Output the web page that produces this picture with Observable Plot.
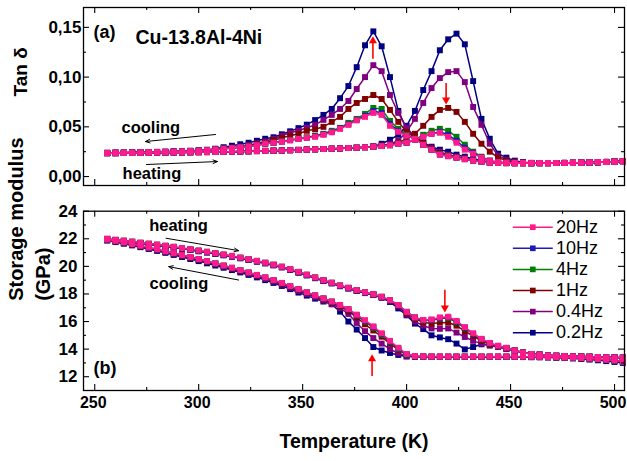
<!DOCTYPE html>
<html>
<head>
<meta charset="utf-8">
<script src="https://cdn.jsdelivr.net/npm/d3@7"></script>
<script src="https://cdn.jsdelivr.net/npm/@observablehq/plot@0.6"></script>
<style>
  html, body { margin: 0; padding: 0; background: #fff; }
  #chart { position: relative; width: 627px; height: 461px; font-family: "Liberation Sans", Arial, sans-serif; }
  #chart svg { position: absolute; left: 0; overflow: visible; }
</style>
</head>
<body>
<div id="chart"></div>
<script>
// ---------- data ----------
const temps = [256,260,264,268,272,276,280,284,288,292,
  296,300,304,308,312,316,320,324,328,332,
  336,340,344,348,352,356,360,364,368,372,
  376,380,384,388,392,396,400,404,408,412,
  416,420,424,428,432,436,440,444,448,452,
  456,460,464,468,472,476,480,484,488,492,
  496,500,504];

const freqLabels = ["20Hz", "10Hz", "4Hz", "1Hz", "0.4Hz", "0.2Hz"];
const freqColors = ["#ff1a8c", "#1c1cb4", "#008000", "#800000", "#800080", "#000080"];

// Tan delta, heating
const tanHeat20 = [.0235,.0235,.0237,.0238,.0239,.024,.024,.0241,.0242,.0243,
  .0244,.0245,.0246,.0247,.0248,.025,.0252,.0254,.0256,.0258,
  .026,.0262,.0265,.0268,.0271,.0274,.0277,.028,.0283,.0287,
  .029,.0295,.03,.0307,.0315,.033,.034,.037,.04,.043,
  .044,.04,.034,.027,.023,.019,.016,.0145,.014,.0138,
  .0136,.0135,.0135,.0135,.0136,.0137,.0138,.014,.0142,.0144,
  .0147,.015,.0155];
const tanHeat10 = [.0235,.0235,.0237,.0238,.0239,.024,.024,.0241,.0242,.0243,
  .0244,.0245,.0246,.0247,.0248,.025,.0252,.0254,.0256,.0258,
  .026,.0262,.0265,.0268,.0271,.0274,.0277,.028,.0283,.0287,
  .029,.0295,.03,.0307,.0315,.033,.034,.037,.04,.043,
  .045,.042,.036,.029,.024,.019,.016,.0145,.014,.0138,
  .0136,.0135,.0135,.0135,.0136,.0137,.0138,.014,.0142,.0144,
  .0147,.015,.0155];
const tanHeat4 = [.0235,.0235,.0237,.0238,.0239,.024,.024,.0241,.0242,.0243,
  .0244,.0245,.0246,.0247,.0248,.025,.0252,.0254,.0256,.0258,
  .026,.0262,.0265,.0268,.0271,.0274,.0277,.028,.0283,.0287,
  .029,.0295,.03,.0307,.0315,.033,.034,.037,.042,.046,
  .048,.046,.04,.032,.025,.02,.016,.0145,.014,.0138,
  .0136,.0135,.0135,.0135,.0136,.0137,.0138,.014,.0142,.0144,
  .0147,.015,.0155];
const tanHeat1 = [.0235,.0235,.0237,.0238,.0239,.024,.024,.0241,.0242,.0243,
  .0244,.0245,.0246,.0247,.0248,.025,.0252,.0254,.0256,.0258,
  .026,.0262,.0265,.0268,.0271,.0274,.0277,.028,.0283,.0287,
  .029,.0295,.03,.031,.032,.034,.038,.043,.051,.06,
  .067,.069,.065,.055,.043,.033,.025,.019,.016,.0145,
  .0137,.0135,.0135,.0135,.0136,.0137,.0138,.014,.0142,.0144,
  .0147,.015,.0155];
const tanHeat04 = [.0235,.0235,.0237,.0238,.0239,.024,.024,.0241,.0242,.0243,
  .0244,.0245,.0246,.0247,.0248,.025,.0252,.0254,.0256,.0258,
  .026,.0262,.0265,.0268,.0271,.0274,.0277,.028,.0283,.0287,
  .029,.0295,.0305,.031,.033,.036,.045,.058,.074,.089,
  .099,.105,.106,.095,.07,.052,.033,.021,.017,.015,
  .014,.0135,.0135,.0135,.0136,.0137,.0138,.014,.0142,.0144,
  .0147,.015,.0155];
const tanHeat02 = [.0235,.0235,.0237,.0238,.0239,.024,.024,.0241,.0242,.0243,
  .0244,.0245,.0246,.0247,.0248,.025,.0252,.0254,.0256,.0258,
  .026,.0262,.0265,.0268,.0271,.0274,.0277,.028,.0283,.0287,
  .029,.0295,.03,.033,.037,.042,.051,.066,.087,.106,
  .127,.138,.1437,.133,.096,.058,.038,.023,.019,.016,
  .0145,.0138,.0135,.0135,.0136,.0137,.0138,.014,.0142,.0144,
  .0147,.015,.0155];

// Tan delta, cooling
const tanCool20 = [.0238,.024,.024,.0242,.0244,.0245,.0246,.0248,.025,.0253,
  .0256,.026,.0266,.0273,.028,.0287,.0295,.0303,.0315,.033,
  .034,.035,.0365,.0378,.039,.04,.042,.0445,.048,.052,
  .0565,.06,.064,.062,.051,.045,.041,.038,.032,.027,
  .022,.0205,.019,.0175,.016,.015,.0138,.0136,.0135,.0134,
  .0134,.0134,.0135,.0135,.0136,.0137,.0138,.014,.0142,.0144,
  .0147,.015,.0155];
const tanCool10 = [.0238,.024,.024,.0242,.0244,.0245,.0246,.0248,.025,.0253,
  .0256,.026,.0266,.0273,.028,.0287,.0295,.0303,.0315,.033,
  .034,.035,.0365,.0378,.039,.0405,.0425,.045,.0485,.0525,
  .057,.061,.066,.064,.053,.046,.041,.038,.032,.027,
  .022,.0205,.019,.0175,.016,.015,.0138,.0136,.0135,.0134,
  .0134,.0134,.0135,.0135,.0136,.0137,.0138,.014,.0142,.0144,
  .0147,.015,.0155];
const tanCool4 = [.0238,.024,.024,.0242,.0244,.0245,.0246,.0248,.025,.0253,
  .0256,.026,.0266,.0273,.028,.0287,.0295,.0303,.0315,.033,
  .034,.0355,.037,.038,.0395,.041,.043,.046,.049,.054,
  .058,.063,.069,.068,.056,.048,.042,.038,.032,.027,
  .0225,.021,.019,.0175,.016,.015,.0138,.0136,.0135,.0134,
  .0134,.0134,.0135,.0135,.0136,.0137,.0138,.014,.0142,.0144,
  .0147,.015,.0155];
const tanCool1 = [.0238,.024,.024,.0242,.0244,.0245,.0246,.0248,.025,.0253,
  .0256,.026,.0266,.0273,.028,.0288,.0298,.031,.0325,.034,
  .0365,.039,.041,.043,.046,.0475,.05,.055,.06,.068,
  .074,.078,.082,.078,.067,.055,.045,.04,.034,.028,
  .0235,.021,.0195,.018,.0165,.0152,.014,.0137,.0135,.0134,
  .0134,.0134,.0135,.0135,.0136,.0137,.0138,.014,.0142,.0144,
  .0147,.015,.0155];
const tanCool04 = [.0238,.024,.024,.0242,.0244,.0245,.0246,.0248,.025,.0253,
  .0256,.026,.0266,.0274,.0282,.029,.03,.0315,.0335,.0355,
  .038,.041,.044,.046,.049,.052,.057,.062,.068,.076,
  .088,.1,.112,.106,.082,.064,.049,.04,.034,.029,
  .025,.022,.02,.0185,.017,.0155,.0142,.0138,.0135,.0134,
  .0134,.0134,.0135,.0135,.0136,.0137,.0138,.014,.0142,.0144,
  .0147,.015,.0155];
const tanCool02 = [.0238,.024,.0241,.0243,.0245,.0247,.0249,.0251,.0254,.0257,
  .026,.0265,.027,.028,.0295,.031,.0325,.034,.036,.038,
  .0395,.0425,.0455,.0487,.0522,.0568,.062,.068,.0788,.091,
  .11,.132,.146,.131,.1,.066,.048,.04,.034,.03,
  .027,.025,.022,.02,.018,.016,.015,.014,.0136,.0135,
  .0134,.0134,.0135,.0135,.0136,.0137,.0138,.014,.0142,.0144,
  .0147,.015,.0155];

// Storage modulus (GPa), heating
const modHeat20 = [22.0,21.93,21.87,21.8,21.72,21.65,21.58,21.5,21.42,21.33,
  21.24,21.15,21.06,20.96,20.86,20.76,20.64,20.52,20.4,20.27,
  20.13,19.98,19.8,19.6,19.4,19.2,19.0,18.82,18.62,18.45,
  18.28,18.12,17.98,17.8,17.55,17.2,16.7,16.3,16.12,16.15,
  16.3,16.35,16.05,15.6,15.15,14.75,14.45,14.25,14.1,13.9,
  13.75,13.65,13.6,13.55,13.52,13.5,13.48,13.47,13.45,13.43,
  13.41,13.4,13.38];
const modHeat10 = [21.97,21.9,21.84,21.77,21.69,21.62,21.55,21.47,21.39,21.3,
  21.21,21.12,21.03,20.93,20.83,20.73,20.61,20.49,20.37,20.24,
  20.1,19.95,19.77,19.57,19.37,19.17,18.97,18.79,18.59,18.42,
  18.25,18.09,17.95,17.77,17.52,17.17,16.7,16.3,16.1,16.12,
  16.25,16.3,16.0,15.55,15.1,14.72,14.43,14.23,14.08,13.9,
  13.75,13.65,13.6,13.55,13.52,13.5,13.48,13.47,13.45,13.43,
  13.41,13.4,13.38];
const modHeat4 = [22.0,21.93,21.87,21.8,21.72,21.65,21.58,21.5,21.42,21.33,
  21.24,21.15,21.06,20.96,20.86,20.76,20.64,20.52,20.4,20.27,
  20.13,19.98,19.8,19.6,19.4,19.2,19.0,18.82,18.62,18.45,
  18.28,18.12,17.98,17.8,17.55,17.2,16.7,16.28,16.08,16.1,
  16.22,16.25,15.95,15.52,15.1,14.7,14.42,14.22,14.08,13.9,
  13.75,13.65,13.6,13.55,13.52,13.5,13.48,13.47,13.45,13.43,
  13.41,13.4,13.38];
const modHeat1 = [21.97,21.9,21.84,21.77,21.69,21.62,21.55,21.47,21.39,21.3,
  21.21,21.12,21.03,20.93,20.83,20.73,20.61,20.49,20.37,20.24,
  20.1,19.95,19.77,19.57,19.37,19.17,18.97,18.79,18.59,18.42,
  18.25,18.09,17.95,17.77,17.52,17.17,16.6,16.2,15.95,15.85,
  15.92,15.93,15.7,15.3,14.95,14.6,14.35,14.2,14.05,13.9,
  13.75,13.65,13.6,13.55,13.52,13.5,13.48,13.47,13.45,13.43,
  13.41,13.4,13.38];
const modHeat04 = [21.97,21.9,21.84,21.77,21.69,21.62,21.55,21.47,21.39,21.3,
  21.21,21.12,21.03,20.93,20.83,20.73,20.61,20.49,20.37,20.24,
  20.1,19.95,19.77,19.57,19.37,19.17,18.97,18.79,18.59,18.42,
  18.25,18.09,17.95,17.77,17.5,17.1,16.5,16.0,15.7,15.5,
  15.47,15.5,15.2,14.88,14.6,14.4,14.25,14.15,14.0,13.88,
  13.75,13.65,13.6,13.55,13.52,13.5,13.48,13.47,13.45,13.43,
  13.41,13.4,13.38];
const modHeat02 = [21.94,21.87,21.81,21.74,21.66,21.59,21.52,21.44,21.36,21.27,
  21.18,21.09,21.0,20.9,20.8,20.7,20.58,20.46,20.34,20.21,
  20.07,19.92,19.74,19.54,19.34,19.14,18.94,18.76,18.56,18.39,
  18.22,18.06,17.92,17.72,17.42,16.95,16.45,15.85,15.45,15.0,
  14.85,14.72,14.4,13.98,14.15,14.35,14.3,14.18,14.02,13.88,
  13.75,13.65,13.6,13.55,13.52,13.5,13.48,13.47,13.45,13.43,
  13.41,13.4,13.38];

// Storage modulus (GPa), cooling
const modCool20 = [21.95,21.85,21.74,21.62,21.5,21.37,21.24,21.1,20.96,20.82,
  20.68,20.53,20.38,20.22,20.06,19.9,19.73,19.56,19.38,19.2,
  19.0,18.8,18.57,18.35,18.12,17.9,17.68,17.45,17.2,16.9,
  16.5,16.1,15.65,15.15,14.6,14.1,13.65,13.5,13.47,13.46,
  13.46,13.46,13.46,13.46,13.46,13.46,13.46,13.46,13.46,13.46,
  13.46,13.45,13.44,13.43,13.42,13.4,13.38,13.35,13.32,13.28,
  13.23,13.18,13.1];
const modCool10 = [21.93,21.83,21.72,21.6,21.48,21.35,21.22,21.08,20.94,20.8,
  20.66,20.51,20.36,20.2,20.04,19.88,19.71,19.54,19.36,19.18,
  18.98,18.78,18.55,18.33,18.1,17.88,17.66,17.43,17.17,16.86,
  16.45,16.05,15.6,15.1,14.55,14.05,13.62,13.48,13.46,13.45,
  13.45,13.45,13.45,13.45,13.45,13.45,13.45,13.45,13.45,13.45,
  13.45,13.44,13.43,13.42,13.41,13.39,13.37,13.34,13.31,13.27,
  13.22,13.17,13.1];
const modCool4 = [21.95,21.85,21.74,21.62,21.5,21.37,21.24,21.1,20.96,20.82,
  20.68,20.53,20.38,20.22,20.06,19.9,19.73,19.56,19.38,19.2,
  19.0,18.8,18.57,18.35,18.12,17.9,17.68,17.45,17.2,16.9,
  16.45,16.0,15.55,15.05,14.5,14.0,13.6,13.48,13.46,13.45,
  13.45,13.45,13.45,13.45,13.45,13.45,13.45,13.45,13.45,13.45,
  13.45,13.44,13.43,13.42,13.41,13.39,13.37,13.34,13.31,13.27,
  13.22,13.17,13.1];
const modCool1 = [21.9,21.8,21.69,21.57,21.45,21.32,21.19,21.05,20.91,20.77,
  20.63,20.48,20.33,20.17,20.01,19.85,19.68,19.51,19.33,19.15,
  18.95,18.74,18.51,18.29,18.06,17.84,17.6,17.36,17.1,16.75,
  16.3,15.8,15.35,14.9,14.4,13.95,13.6,13.48,13.46,13.45,
  13.45,13.45,13.45,13.45,13.45,13.45,13.45,13.45,13.45,13.45,
  13.45,13.44,13.43,13.42,13.41,13.39,13.37,13.34,13.31,13.27,
  13.22,13.17,13.1];
const modCool04 = [21.9,21.8,21.68,21.56,21.44,21.31,21.18,21.04,20.9,20.76,
  20.61,20.46,20.31,20.15,19.99,19.82,19.65,19.47,19.29,19.1,
  18.9,18.68,18.45,18.22,17.99,17.76,17.52,17.27,16.98,16.55,
  15.9,15.3,14.8,14.4,14.0,13.7,13.5,13.46,13.45,13.45,
  13.45,13.45,13.45,13.45,13.45,13.45,13.45,13.45,13.45,13.45,
  13.45,13.44,13.43,13.42,13.41,13.39,13.37,13.34,13.31,13.27,
  13.22,13.17,13.1];
const modCool02 = [21.87,21.76,21.64,21.52,21.39,21.26,21.12,20.98,20.83,20.68,
  20.53,20.38,20.22,20.06,19.9,19.73,19.56,19.38,19.2,19.0,
  18.8,18.58,18.35,18.1,17.88,17.66,17.45,17.25,16.72,16.0,
  15.42,14.8,14.15,13.9,13.72,13.58,13.46,13.44,13.43,13.43,
  13.43,13.43,13.43,13.43,13.43,13.43,13.43,13.43,13.43,13.43,
  13.42,13.41,13.4,13.39,13.37,13.35,13.32,13.28,13.24,13.19,
  13.13,13.07,13.0];

// tick values
const xMajor = [250, 300, 350, 400, 450, 500];
const xMinor = [275, 325, 375, 425, 475];
const tanMajor = [0, 0.05, 0.10, 0.15];
const tanMinor = [0.025, 0.075, 0.125];
const modMajor = [12, 14, 16, 18, 20, 22, 24];
const modMinor = [13, 15, 17, 19, 21, 23];

// annotations (data coordinates)
const tanNotes = [{t: 277, v: 0.0493, label: "cooling"}, {t: 277.5, v: 0.0025, label: "heating"}];
const tanArrows = [{t1: 308.1, v1: 0.0423, t2: 274.4, v2: 0.0352}, {t1: 274.9, v1: 0.0121, t2: 309, v2: 0.0151}];
const tanRed = [{t: 383.8, v1: 0.1185, v2: 0.1363, rot: 0}, {t: 419, v1: 0.094, v2: 0.0772, rot: 180}];
const modNotes = [{t: 290.3, v: 22.96, label: "heating"}, {t: 290.5, v: 18.76, label: "cooling"}];
const modArrows = [{t1: 284.3, v1: 22.04, t2: 319.2, v2: 21.14}, {t1: 319.2, v1: 19.01, t2: 285.6, v2: 19.98}];
const modRed = [{t: 418.4, v1: 18.3, v2: 16.99, rot: 180}, {t: 383.4, v1: 12.05, v2: 13.29, rot: 0}];

// ---------- build ----------
const tanH = [tanHeat20, tanHeat10, tanHeat4, tanHeat1, tanHeat04, tanHeat02];
const tanC = [tanCool20, tanCool10, tanCool4, tanCool1, tanCool04, tanCool02];
const modH = [modHeat20, modHeat10, modHeat4, modHeat1, modHeat04, modHeat02];
const modC = [modCool20, modCool10, modCool4, modCool1, modCool04, modCool02];

const bad = [...tanH, ...tanC, ...modH, ...modC].map((a, i) => [i, a.length]).filter(d => d[1] !== temps.length);
if (bad.length) document.body.insertAdjacentHTML("beforeend", "<pre>BAD LENGTHS " + JSON.stringify(bad) + "</pre>");

const series = freqLabels.map((f, i) => ({f, color: freqColors[i], tanH: tanH[i], tanC: tanC[i], modH: modH[i], modC: modC[i]}));
const drawOrder = [...series].reverse();

function curve(values, color) {
  const data = temps.map((t, i) => ({t, v: values[i]}));
  return [
    Plot.line(data, {x: "t", y: "v", stroke: color, strokeWidth: 1.5}),
    Plot.dot(data, {x: "t", y: "v", symbol: "square", r: 3.35, fill: color, stroke: null})
  ];
}

const FONT = "Liberation Sans, Arial, Helvetica, sans-serif";
const xDomain = [244.6, 504.8];
const W = 627, ML = 83, MR = 3;
const FW = W - ML - MR;

function tickMarks(yMaj, yMin, fh) {
  return [
    Plot.ruleX(xMajor, {insetTop: fh - 6, stroke: "#000", strokeWidth: 1.1}),
    Plot.ruleX(xMajor, {insetBottom: fh - 6, stroke: "#000", strokeWidth: 1.1}),
    Plot.ruleX(xMinor, {insetTop: fh - 3, stroke: "#000", strokeWidth: 1.1}),
    Plot.ruleX(xMinor, {insetBottom: fh - 3, stroke: "#000", strokeWidth: 1.1}),
    Plot.ruleY(yMaj, {insetRight: FW - 6, stroke: "#000", strokeWidth: 1.1}),
    Plot.ruleY(yMaj, {insetLeft: FW - 6, stroke: "#000", strokeWidth: 1.1}),
    Plot.ruleY(yMin, {insetRight: FW - 3, stroke: "#000", strokeWidth: 1.1}),
    Plot.ruleY(yMin, {insetLeft: FW - 3, stroke: "#000", strokeWidth: 1.1})
  ];
}

function redArrows(list) {
  return [
    Plot.link(list, {x1: "t", x2: "t", y1: "v1", y2: "v2", stroke: "#ff0000", strokeWidth: 1.6}),
    Plot.dot(list, {x: "t", y: "v2", symbol: "triangle", r: 3, fill: "#ff0000", stroke: null, rotate: "rot"})
  ];
}

// ----- top panel (a) -----
const topH = 200, topMT = 7, topMB = 15;
const topFH = topH - topMT - topMB;
const topPlot = Plot.plot({
  width: W, height: topH,
  marginLeft: ML, marginRight: MR, marginTop: topMT, marginBottom: topMB,
  x: {domain: xDomain, axis: null},
  y: {domain: [-0.009, 0.17], axis: null},
  style: {fontFamily: FONT, color: "#000", background: "transparent"},
  marks: [
    ...drawOrder.flatMap(s => [...curve(s.tanH, s.color), ...curve(s.tanC, s.color)]),
    ...tickMarks(tanMajor, tanMinor, topFH),
    Plot.frame({stroke: "#000", strokeWidth: 1.3}),
    Plot.axisY({ticks: tanMajor, tickSize: 0, tickPadding: 2, label: null,
      tickFormat: d => d3.format(".2f")(d).replace(".", ","),
      fontSize: 17, fontWeight: "bold"}),
    Plot.text(["Tan δ"], {frameAnchor: "left", dx: -63, rotate: -90, fontSize: 19, fontWeight: "bold", fill: "#000"}),
    Plot.text(["(a)"], {frameAnchor: "top-left", dx: 10, dy: 18, textAnchor: "start", fontSize: 18, fontWeight: "bold", fill: "#000"}),
    Plot.text(["Cu-13.8Al-4Ni"], {frameAnchor: "top-left", dx: 52, dy: 23, textAnchor: "start", fontSize: 19.5, fontWeight: "bold", fill: "#000"}),
    Plot.text(tanNotes, {x: "t", y: "v", text: "label", fontSize: 16.5, fontWeight: "bold", fill: "#000"}),
    Plot.arrow(tanArrows, {x1: "t1", y1: "v1", x2: "t2", y2: "v2", stroke: "#000", strokeWidth: 1, headLength: 7, headAngle: 45}),
    ...redArrows(tanRed)
  ]
});
topPlot.style.top = "0px";

// ----- bottom panel (b) -----
const botTop = 200, botH = 261, botMT = 10.7, botMB = 71;
const botFH = botH - botMT - botMB;
const legendRows = series.map((s, i) => ({f: s.f, color: s.color, y: 22.84 - 1.53 * i}));
const botPlot = Plot.plot({
  width: W, height: botH,
  marginLeft: ML, marginRight: MR, marginTop: botMT, marginBottom: botMB,
  x: {domain: xDomain, axis: null},
  y: {domain: [11, 24], axis: null},
  style: {fontFamily: FONT, color: "#000", background: "transparent"},
  marks: [
    ...drawOrder.flatMap(s => [...curve(s.modH, s.color), ...curve(s.modC, s.color)]),
    ...tickMarks(modMajor, modMinor, botFH),
    Plot.frame({stroke: "#000", strokeWidth: 1.3}),
    Plot.axisY({ticks: modMajor, tickSize: 0, tickPadding: 6, label: null,
      tickFormat: d => String(d), fontSize: 17, fontWeight: "bold"}),
    Plot.axisX({ticks: xMajor, tickSize: 0, tickPadding: 6, label: null, dx: -1.5,
      tickFormat: d => String(d), fontSize: 16, fontWeight: "bold"}),
    Plot.text(["Storage modulus"], {frameAnchor: "left", dx: -67, rotate: -90, fontSize: 20, fontWeight: "bold", fill: "#000"}),
    Plot.text(["(GPa)"], {frameAnchor: "left", dx: -40, rotate: -90, fontSize: 20, fontWeight: "bold", fill: "#000"}),
    Plot.text(["Temperature (K)"], {frameAnchor: "bottom", dy: 57, fontSize: 19.5, fontWeight: "bold", fill: "#000"}),
    Plot.text(["(b)"], {frameAnchor: "bottom-left", dx: 10, dy: -17, textAnchor: "start", fontSize: 18, fontWeight: "bold", fill: "#000"}),
    Plot.text(modNotes, {x: "t", y: "v", text: "label", fontSize: 16.5, fontWeight: "bold", fill: "#000"}),
    Plot.arrow(modArrows, {x1: "t1", y1: "v1", x2: "t2", y2: "v2", stroke: "#000", strokeWidth: 1, headLength: 7, headAngle: 45}),
    ...redArrows(modRed),
    // legend
    Plot.link(legendRows, {x1: () => 451.1, x2: () => 470.3, y1: "y", y2: "y", stroke: "color", strokeWidth: 1.5}),
    Plot.dot(legendRows, {x: () => 460.7, y: "y", symbol: "square", r: 3.2, fill: "color", stroke: null}),
    Plot.text(legendRows, {x: () => 471.9, y: "y", text: "f", textAnchor: "start", fontSize: 18, fill: "#000"})
  ]
});
botPlot.style.top = botTop + "px";

const chart = document.getElementById("chart");
chart.appendChild(topPlot);
chart.appendChild(botPlot);
</script>
</body>
</html>
